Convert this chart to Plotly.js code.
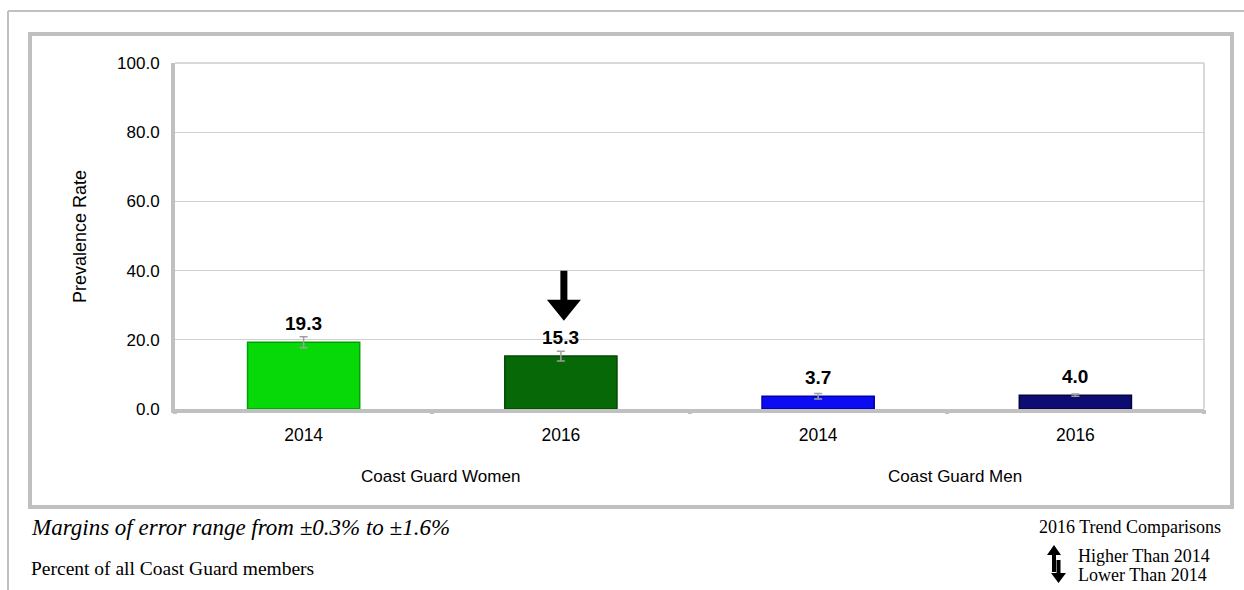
<!DOCTYPE html>
<html>
<head>
<meta charset="utf-8">
<script src="https://cdn.plot.ly/plotly-3.0.1.min.js"></script>
<style>
html,body{margin:0;padding:0;background:#fff;}
#chart{width:1244px;height:590px;}
</style>
</head>
<body>
<div id="chart"></div>
<script>
// ---- data ----
const groups = ["Coast Guard Women", "Coast Guard Women", "Coast Guard Men", "Coast Guard Men"];
const years = ["2014", "2016", "2014", "2016"];
const rates = [19.3, 15.3, 3.7, 4.0];
const errors = [1.6, 1.4, 0.8, 0.3];
const trend = ["", "down", "", ""];
const barColors = ["#07d807", "#066806", "#0c0cf2", "#0c0c72"];
const barEdges = ["#03a003", "#034803", "#0000a8", "#05053e"];
const yTicks = [0, 20, 40, 60, 80, 100];

// ---- geometry of the plot area (px) ----
const L = 175, R = 1204, T = 63, B = 409;
const W = R - L, H = B - T;
const px = p => (p - L) / W;      // page px -> paper x
const py = p => (B - p) / H;      // page px -> paper y
const xRange = [-0.5, rates.length - 0.5];
const yRange = [0, 100];
const xPerPx = (xRange[1] - xRange[0]) / W;
const yPerPx = (yRange[1] - yRange[0]) / H;

const idx = rates.map((_, i) => i);
const SANS = "Liberation Sans, Arial, sans-serif";
const SERIF = "Liberation Serif, Times New Roman, serif";

const traces = [{
  type: "bar",
  x: idx,
  y: rates,
  width: 0.436,
  marker: { color: barColors, line: { color: barEdges, width: 1.5 } },
  error_y: { type: "data", array: errors, visible: true, color: "#a0a0a0", thickness: 1.5, width: 4 },
  hoverinfo: "skip"
}, {
  // invisible trace on xaxis2 to show boundary ticks
  type: "scatter", x: [xRange[0]], y: [0], xaxis: "x2", mode: "markers",
  marker: { opacity: 0 }, hoverinfo: "skip", showlegend: false
}];

const shapes = [];
const lineGray = "#c0c0c0";
// outer frame (top + left)
shapes.push({ type: "line", xref: "paper", yref: "paper", x0: px(8), x1: px(1250), y0: py(11), y1: py(11), line: { color: lineGray, width: 2 } });
shapes.push({ type: "line", xref: "paper", yref: "paper", x0: px(8), x1: px(8), y0: py(11), y1: py(600), line: { color: lineGray, width: 2 } });
// inner box
shapes.push({ type: "rect", xref: "paper", yref: "paper", x0: px(30), x1: px(1232), y0: py(34), y1: py(507), line: { color: lineGray, width: 4 }, layer: "below" });
// plot frame (thin top/right)
shapes.push({ type: "line", xref: "paper", yref: "paper", x0: 0, x1: 1, y0: 1, y1: 1, line: { color: "#cccccc", width: 1.5 } });
shapes.push({ type: "line", xref: "paper", yref: "paper", x0: 1, x1: 1, y0: 0, y1: 1, line: { color: "#cccccc", width: 1.5 } });

// trend arrows above bars
trend.forEach((t, i) => {
  if (!t) return;
  const tip = rates[i] + 10.2;
  const hw = 17 * xPerPx, sw = 3.5 * xPerPx;
  const base = tip + 21 * yPerPx, top = tip + 50 * yPerPx;
  const x = i + 3 * xPerPx;
  shapes.push({
    type: "path", xref: "x", yref: "y",
    path: `M ${x - sw} ${top} L ${x + sw} ${top} L ${x + sw} ${base} L ${x + hw} ${base} L ${x} ${tip} L ${x - hw} ${base} L ${x - sw} ${base} Z`,
    fillcolor: "#000", line: { width: 0 }
  });
});

// legend arrows (bottom right)
const upX = 1054, dnX = 1058.5;
shapes.push({ type: "path", xref: "paper", yref: "paper",
  path: `M ${px(upX - 2)} ${py(572)} L ${px(upX + 2)} ${py(572)} L ${px(upX + 2)} ${py(555)} L ${px(upX + 7)} ${py(555)} L ${px(upX)} ${py(545)} L ${px(upX - 7)} ${py(555)} L ${px(upX - 2)} ${py(555)} Z`,
  fillcolor: "#000", line: { width: 0 } });
shapes.push({ type: "path", xref: "paper", yref: "paper",
  path: `M ${px(dnX - 2)} ${py(560)} L ${px(dnX + 2)} ${py(560)} L ${px(dnX + 2)} ${py(573)} L ${px(dnX + 7.5)} ${py(573)} L ${px(dnX)} ${py(583)} L ${px(dnX - 7.5)} ${py(573)} L ${px(dnX - 2)} ${py(573)} Z`,
  fillcolor: "#000", line: { width: 0 } });

const annotations = [];
// value labels
rates.forEach((v, i) => {
  annotations.push({ x: i, y: v, xref: "x", yref: "y", text: "<b>" + v.toFixed(1) + "</b>",
    showarrow: false, yanchor: "bottom", yshift: 6,
    font: { family: SANS, size: 19, color: "#000" } });
});
// group labels
const groupNames = [...new Set(groups)];
groupNames.forEach(g => {
  const members = idx.filter(i => groups[i] === g);
  const c = (members[0] + members[members.length - 1]) / 2;
  annotations.push({ x: c, y: py(476), xref: "x", yref: "paper", xshift: 8, text: g, showarrow: false,
    yanchor: "middle", font: { family: SANS, size: 17, color: "#000" } });
});
// y axis title
annotations.push({ x: px(68), y: py(237), xref: "paper", yref: "paper", text: "Prevalence Rate", textangle: -90,
  showarrow: false, font: { family: SANS, size: 18, color: "#000" } });
// footnotes
annotations.push({ x: px(29), y: py(527), xref: "paper", yref: "paper", xanchor: "left", yanchor: "middle",
  text: "<i>Margins of error range from ±0.3% to ±1.6%</i>", showarrow: false,
  font: { family: SERIF, size: 23, color: "#000" } });
annotations.push({ x: px(29), y: py(568), xref: "paper", yref: "paper", xanchor: "left", yanchor: "middle",
  text: "Percent of all Coast Guard members", showarrow: false,
  font: { family: SERIF, size: 19.5, color: "#000" } });
annotations.push({ x: px(1037), y: py(527), xref: "paper", yref: "paper", xanchor: "left", yanchor: "middle",
  text: "2016 Trend Comparisons", showarrow: false,
  font: { family: SERIF, size: 18, color: "#000" } });
annotations.push({ x: px(1076), y: py(556), xref: "paper", yref: "paper", xanchor: "left", yanchor: "middle",
  text: "Higher Than 2014", showarrow: false,
  font: { family: SERIF, size: 18, color: "#000" } });
annotations.push({ x: px(1076), y: py(575), xref: "paper", yref: "paper", xanchor: "left", yanchor: "middle",
  text: "Lower Than 2014", showarrow: false,
  font: { family: SERIF, size: 18, color: "#000" } });

const layout = {
  width: 1244, height: 590,
  margin: { l: L, r: 1244 - R, t: T, b: 590 - B, pad: 0 },
  paper_bgcolor: "#fff", plot_bgcolor: "#fff",
  showlegend: false,
  xaxis: {
    range: xRange, tickvals: idx, ticktext: years, ticks: "",
    showgrid: false, zeroline: false, showline: true, linecolor: lineGray, linewidth: 4,
    tickfont: { family: SANS, size: 17.5, color: "#000" },
    ticklabelstandoff: 7, fixedrange: true
  },
  xaxis2: {
    overlaying: "x", side: "bottom", range: xRange,
    tickvals: idx.map(i => i + 0.5).concat([xRange[0]]), ticktext: idx.map(() => "").concat([""]),
    ticks: "outside", ticklen: 4, tickwidth: 4, tickcolor: lineGray,
    showgrid: false, zeroline: false, showline: false, showticklabels: false, fixedrange: true
  },
  yaxis: {
    range: yRange, tickvals: yTicks, ticktext: yTicks.map(v => v.toFixed(1)), ticks: "",
    showgrid: true, gridcolor: "#d0d0d0", gridwidth: 1,
    zeroline: false, showline: true, linecolor: lineGray, linewidth: 4,
    tickfont: { family: SANS, size: 17, color: "#000" },
    ticklabelstandoff: 8, fixedrange: true
  },
  shapes: shapes,
  annotations: annotations
};

Plotly.newPlot("chart", traces, layout, { displayModeBar: false, staticPlot: true });
</script>
</body>
</html>
